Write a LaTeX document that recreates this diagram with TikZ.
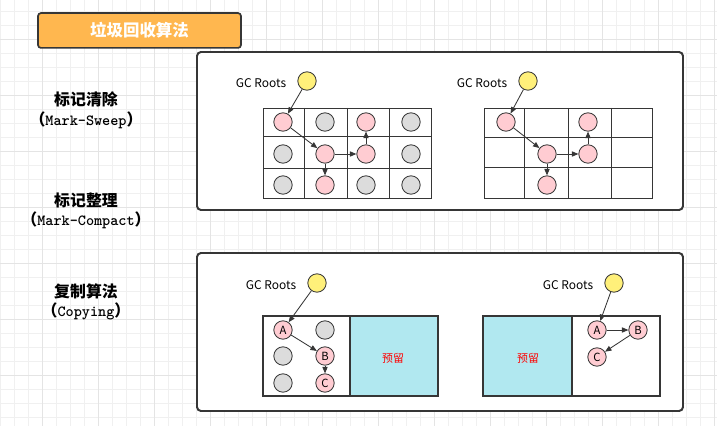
\documentclass[tikz,border=0pt]{standalone}
\usepackage{fontspec}
\setmainfont{Noto Sans CJK SC}
\usetikzlibrary{arrows.meta,positioning}
\definecolor{ink}{HTML}{363636}
\definecolor{titlefill}{HTML}{FFB74F}
\definecolor{livefill}{HTML}{FFCCD2}
\definecolor{deadfill}{HTML}{DCDCDC}
\definecolor{rootfill}{HTML}{FFF07A}
\definecolor{sparefill}{HTML}{B1E8F0}
\definecolor{gridminor}{HTML}{F0F0F0}
\definecolor{gridmajor}{HTML}{E4E4E4}
\tikzset{titlebox/.style={draw=ink,line width=1.2pt,fill=titlefill,rounded corners=2pt,text=white,font=\fontsize{11.7}{13}\selectfont\bfseries},panel/.style={draw=ink,line width=1.4pt,fill=white,rounded corners=1mm},cellline/.style={draw=ink,line width=.6pt},obj/.style={circle,draw=ink,line width=.6pt,minimum size=4.6mm,inner sep=0pt,font=\fontsize{8}{9}\selectfont},live/.style={obj,fill=livefill},dead/.style={obj,fill=deadfill},root/.style={obj,fill=rootfill},ref/.style={draw=ink,line width=.6pt,-{Triangle[length=1.6mm,width=1.3mm]}},rootlabel/.style={font=\fontsize{8.5}{10}\selectfont,inner sep=0pt},halfbox/.style={draw=ink,line width=1.3pt},sparebox/.style={halfbox,fill=sparefill},sparelabel/.style={text=red,font=\fontsize{7.8}{9}\selectfont},algoname/.style={font=\fontsize{11.3}{14}\selectfont\bfseries,align=center}}
\newcommand{\algocode}[1]{（{\ttfamily\fontsize{11}{14}\selectfont\bfseries #1}）}

\begin{document}
\begin{tikzpicture}[x=0.025cm,y=-0.025cm]
\useasboundingbox (0,0) rectangle (717,426);
% background grid
\foreach \gx in {0,14,...,714} \draw[gridminor,line width=.5pt] (\gx,0) -- (\gx,426);
\foreach \gy in {11.7,25.7,...,426} \draw[gridminor,line width=.5pt] (0,\gy) -- (717,\gy);
\foreach \gx in {42,98,...,714} \draw[gridmajor,line width=.5pt] (\gx,0) -- (\gx,426);
\foreach \gy in {39.7,95.7,...,426} \draw[gridmajor,line width=.5pt] (0,\gy) -- (717,\gy);

\node[titlebox,minimum width=5.07cm,minimum height=.87cm] (title) at (139.5,30.5) {垃圾回收算法};

% algorithm names
\node[algoname] (sweepname) at (86,110) {标记清除\\\algocode{Mark-Sweep}};
\node[algoname] (compactname) at (86,211) {标记整理\\\algocode{Mark-Compact}};
\node[algoname] (copyname) at (86,302) {复制算法\\\algocode{Copying}};

\draw[panel] (197,52) rectangle (683,210);
\draw[panel] (197,253) rectangle (683,411);

% mark-sweep
\draw[cellline] (263,108) rectangle (431,198);
\foreach \x in {304,347,389} \draw[cellline] (\x,108) -- (\x,198);
\foreach \y in {136,168} \draw[cellline] (263,\y) -- (431,\y);
\node[rootlabel] (sweeplabel) at (261,83) {GC Roots};
\node[root] (sweeproot) at (307,81) {};
\node[live] (s11) at (283,122) {};
\node[live] (s22) at (325,154) {};
\node[live] (s23) at (366,154) {};
\node[live] (s13) at (366,122) {};
\node[live] (s32) at (325,185) {};
\foreach \x/\y in {325/122,411/122,283/154,411/154,283/185,366/185,411/185}
  \node[dead] (sd-\x-\y) at (\x,\y) {};
\draw[ref] (sweeproot) -- (s11);
\draw[ref] (s11) -- (s22);
\draw[ref] (s22) -- (s23);
\draw[ref] (s23) -- (s13);
\draw[ref] (s22) -- (s32);

% mark-compact
\draw[cellline] (484,108) rectangle (652,198);
\foreach \x in {524,568,611} \draw[cellline] (\x,108) -- (\x,198);
\foreach \y in {137,167} \draw[cellline] (484,\y) -- (652,\y);
\node[rootlabel] (compactlabel) at (482,83) {GC Roots};
\node[root] (compactroot) at (528,81) {};
\node[live] (m11) at (506,122) {};
\node[live] (m22) at (547,154) {};
\node[live] (m23) at (588,154) {};
\node[live] (m13) at (588,122) {};
\node[live] (m32) at (547,185) {};
\draw[ref] (compactroot) -- (m11);
\draw[ref] (m11) -- (m22);
\draw[ref] (m22) -- (m23);
\draw[ref] (m23) -- (m13);
\draw[ref] (m22) -- (m32);

% copying, before
\draw[halfbox] (263,316) rectangle (350,396);
\draw[sparebox] (350,316) rectangle (438,396);
\node[sparelabel] (spareleft) at (393,358) {预留};
\node[rootlabel] (copylabel) at (271,285) {GC Roots};
\node[root] (copyroot) at (317,283) {};
\node[live] (ca) at (283,330) {A};
\node[live] (cb) at (325,356) {B};
\node[live] (cc) at (325,383) {C};
\foreach \x/\y in {325/330,283/356,283/383}
  \node[dead] (cd-\x-\y) at (\x,\y) {};
\draw[ref] (copyroot) -- (ca);
\draw[ref] (ca) -- (cb);
\draw[ref] (cb) -- (cc);

% copying, after
\draw[sparebox] (483,316) rectangle (572,396);
\draw[halfbox] (572,316) rectangle (660,396);
\node[sparelabel] (spareright) at (528,358) {预留};
\node[rootlabel] (movedlabel) at (568,285) {GC Roots};
\node[root] (movedroot) at (614,283) {};
\node[live] (na) at (597,330) {A};
\node[live] (nb) at (638,330) {B};
\node[live] (nc) at (597,357) {C};
\draw[ref] (movedroot) -- (na);
\draw[ref] (na) -- (nb);
\draw[ref] (nb) -- (nc);
\end{tikzpicture}
\end{document}
